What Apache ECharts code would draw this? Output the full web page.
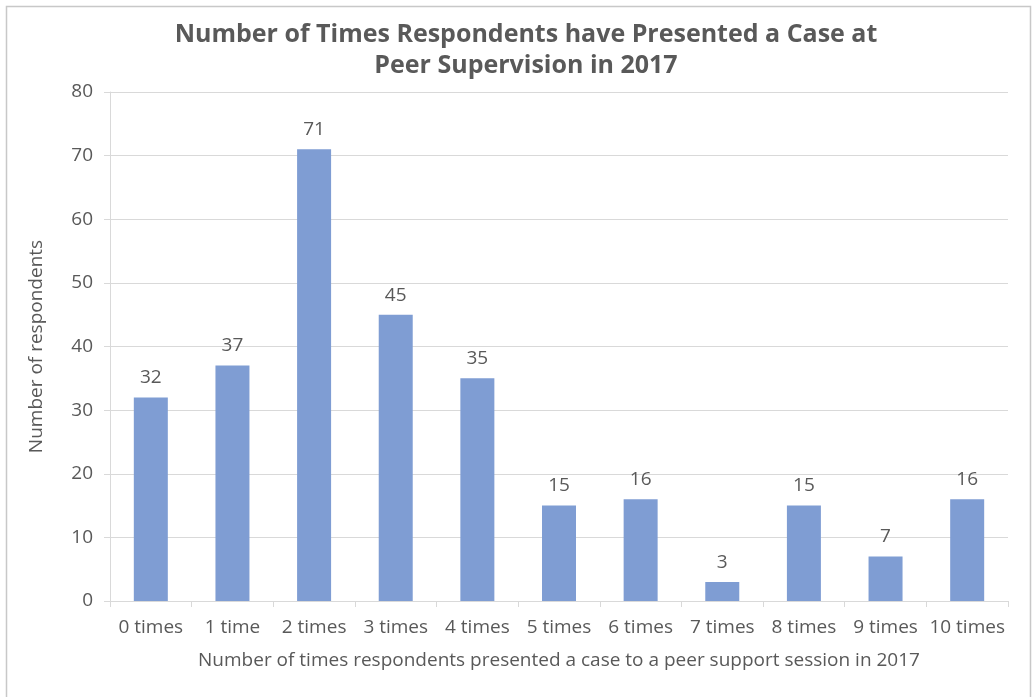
<!DOCTYPE html>
<html>
<head>
<meta charset="utf-8">
<script src="https://cdn.jsdelivr.net/npm/echarts@6/dist/echarts.min.js"></script>
<style>
  html, body { margin: 0; padding: 0; background: #ffffff; }
  #chart { width: 1032px; height: 697px; }
</style>
</head>
<body>
<div id="chart"></div>
<script>
// Survey responses: how often each respondent presented a case in 2017
const categories = ['0 times', '1 time', '2 times', '3 times', '4 times', '5 times',
                    '6 times', '7 times', '8 times', '9 times', '10 times'];
const respondents = [32, 37, 71, 45, 35, 15, 16, 3, 15, 7, 16];
const yTicks = { min: 0, max: 80, interval: 10 };

const FONT = '"Open Sans", "Noto Sans", sans-serif';
const TEXT = '#595959';
const GRID = '#d9d9d9';
const SIZE = 19;

const chart = echarts.init(document.getElementById('chart'), null, { renderer: 'canvas' });

chart.setOption({
  animation: false,
  backgroundColor: '#ffffff',
  textStyle: { fontFamily: FONT },
  title: {
    text: 'Number of Times Respondents have Presented a Case at\nPeer Supervision in 2017',
    left: 521,
    top: 14,
    textAlign: 'center',
    textStyle: {
      fontFamily: FONT,
      fontSize: 25,
      fontWeight: 'bold',
      color: TEXT,
      lineHeight: 31
    }
  },
  grid: { left: 110, right: 24, top: 92, bottom: 96, containLabel: false },
  xAxis: {
    type: 'category',
    data: categories,
    name: 'Number of times respondents presented a case to a peer support session in 2017',
    nameLocation: 'middle',
    nameGap: 50,
    nameTextStyle: { fontFamily: FONT, fontSize: SIZE, color: TEXT },
    axisLine: { show: true, lineStyle: { color: GRID, width: 1 } },
    axisTick: { show: true, length: 6, alignWithLabel: false, lineStyle: { color: GRID } },
    axisLabel: { fontFamily: FONT, fontSize: SIZE, color: TEXT, margin: 17, interval: 0 }
  },
  yAxis: {
    type: 'value',
    min: yTicks.min,
    max: yTicks.max,
    interval: yTicks.interval,
    name: 'Number of respondents',
    nameLocation: 'middle',
    nameGap: 64,
    nameRotate: 90,
    nameTextStyle: { fontFamily: FONT, fontSize: SIZE, color: TEXT },
    axisLine: { show: true, lineStyle: { color: GRID, width: 1 } },
    axisTick: { show: true, length: 6, lineStyle: { color: GRID } },
    axisLabel: { fontFamily: FONT, fontSize: SIZE, color: TEXT, margin: 17 },
    splitLine: { show: true, lineStyle: { color: GRID, width: 1 } }
  },
  series: [{
    type: 'bar',
    data: respondents,
    barWidth: 34,
    itemStyle: { color: '#7f9dd3' },
    label: {
      show: true,
      position: 'top',
      distance: 10,
      fontFamily: FONT,
      fontSize: SIZE,
      color: TEXT
    }
  }],
  graphic: [{
    type: 'rect',
    silent: true,
    shape: { x: 6.5, y: 6.5, width: 1024, height: 700 },
    style: { fill: 'none', stroke: '#c8c8c8', lineWidth: 1.5 }
  }]
});
</script>
</body>
</html>
